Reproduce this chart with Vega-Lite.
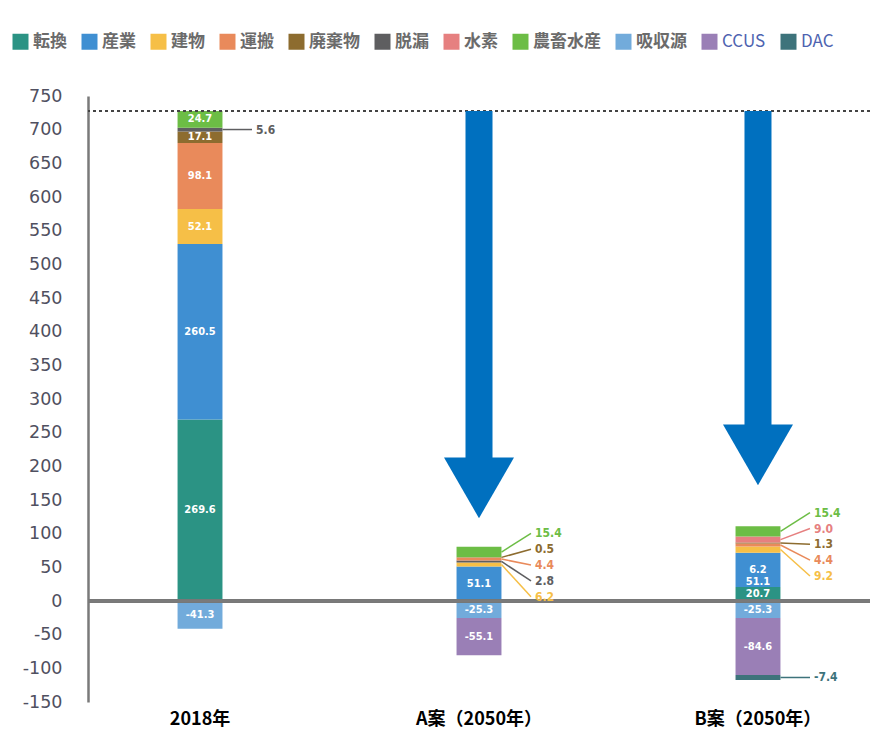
{
  "$schema": "https://vega.github.io/schema/vega-lite/v6.json",
  "autosize": {"type": "none"},
  "width": 782,
  "height": 606,
  "padding": {"left": 88, "top": 96, "right": 7, "bottom": 36},
  "background": "white",
  "config": {
    "view": {"stroke": null},
    "axis": {"labelOverlap": false},
    "axisY": {"labelOverlap": false, "labelBound": false, "grid": false, "ticks": false, "title": null,
              "labelPadding": 26, "labelFont": "DejaVu Sans", "labelFontSize": 17.5, "labelColor": "#505060",
              "domainColor": "#7a7a7a", "domainWidth": 2.5}
  },
  "datasets": {
    "emis": [
      {"case": "2018年", "sector": "転換", "value": 269.6, "idx": 0},
      {"case": "2018年", "sector": "産業", "value": 260.5, "idx": 1},
      {"case": "2018年", "sector": "建物", "value": 52.1, "idx": 2},
      {"case": "2018年", "sector": "運搬", "value": 98.1, "idx": 3},
      {"case": "2018年", "sector": "廃棄物", "value": 17.1, "idx": 4},
      {"case": "2018年", "sector": "脱漏", "value": 5.6, "idx": 5},
      {"case": "2018年", "sector": "農畜水産", "value": 24.7, "idx": 7},
      {"case": "2018年", "sector": "吸収源", "value": -41.3, "idx": 8},
      {"case": "A案（2050年）", "sector": "産業", "value": 51.1, "idx": 1},
      {"case": "A案（2050年）", "sector": "建物", "value": 6.2, "idx": 2},
      {"case": "A案（2050年）", "sector": "脱漏", "value": 2.8, "idx": 2.5},
      {"case": "A案（2050年）", "sector": "運搬", "value": 4.4, "idx": 3},
      {"case": "A案（2050年）", "sector": "廃棄物", "value": 0.5, "idx": 4},
      {"case": "A案（2050年）", "sector": "農畜水産", "value": 15.4, "idx": 7},
      {"case": "A案（2050年）", "sector": "吸収源", "value": -25.3, "idx": 8},
      {"case": "A案（2050年）", "sector": "CCUS", "value": -55.1, "idx": 9},
      {"case": "B案（2050年）", "sector": "転換", "value": 20.7, "idx": 0},
      {"case": "B案（2050年）", "sector": "産業", "value": 51.1, "idx": 1, "extra": "6.2"},
      {"case": "B案（2050年）", "sector": "建物", "value": 9.2, "idx": 2},
      {"case": "B案（2050年）", "sector": "運搬", "value": 4.4, "idx": 3},
      {"case": "B案（2050年）", "sector": "廃棄物", "value": 1.3, "idx": 4},
      {"case": "B案（2050年）", "sector": "水素", "value": 9.0, "idx": 6},
      {"case": "B案（2050年）", "sector": "農畜水産", "value": 15.4, "idx": 7},
      {"case": "B案（2050年）", "sector": "吸収源", "value": -25.3, "idx": 8},
      {"case": "B案（2050年）", "sector": "CCUS", "value": -84.6, "idx": 9},
      {"case": "B案（2050年）", "sector": "DAC", "value": -7.4, "idx": 10}
    ],
    "arrows": [
      {"case": "A案（2050年）", "start": 727.7, "tip": 108},
      {"case": "B案（2050年）", "start": 727.7, "tip": 157}
    ]
  },
  "encoding": {
    "x": {
      "field": "case", "type": "nominal",
      "sort": ["2018年", "A案（2050年）", "B案（2050年）"],
      "scale": {"domain": ["2018年", "A案（2050年）", "B案（2050年）"], "paddingInner": 0.839, "paddingOuter": 0.321},
      "axis": {"title": null, "labelAngle": 0, "ticks": false, "domain": false, "labelPadding": 8,
               "labelFont": "Noto Sans CJK JP", "labelFontSize": 18, "labelFontWeight": "bold", "labelColor": "#000000"}
    }
  },
  "layer": [
    {
      "data": {"name": "emis"},
      "mark": {"type": "bar"},
      "encoding": {
        "y": {
          "field": "value", "type": "quantitative", "stack": "zero",
          "scale": {"domain": [-150, 750], "nice": false, "zero": false},
          "axis": {"labelOverlap": false, "values": [-150, -100, -50, 0, 50, 100, 150, 200, 250, 300, 350, 400, 450, 500, 550, 600, 650, 700, 750], "labelExpr": "'' + datum.value"}
        },
        "order": {"field": "idx", "type": "quantitative"},
        "color": {
          "field": "sector", "type": "nominal",
          "scale": {
            "domain": ["転換", "産業", "建物", "運搬", "廃棄物", "脱漏", "水素", "農畜水産", "吸収源", "CCUS", "DAC"],
            "range": ["#2b9384", "#3f8fd2", "#f6bf47", "#e98a5b", "#8d6c2f", "#5e5e60", "#e68080", "#6cbd45", "#72abdb", "#9a7fb6", "#3d737b"]
          },
          "legend": {
            "title": null, "orient": "none", "direction": "horizontal", "legendX": -76, "legendY": -63,
            "symbolType": "square", "symbolSize": 256, "symbolStrokeWidth": 0, "symbolOpacity": 1,
            "labelFont": "Noto Sans CJK JP", "labelFontSize": 17, "labelFontWeight": "bold", "labelColor": "#6b6b6b",
            "columnPadding": 14, "labelOffset": 4, "padding": 0,
            "encode": {"labels": {"update": {
              "fill": {"signal": "indexof(['CCUS','DAC'], datum.label) >= 0 ? '#4e63b0' : '#6b6b6b'"},
              "fontWeight": {"signal": "indexof(['CCUS','DAC'], datum.label) >= 0 ? 'normal' : 'bold'"}
            }}}
          }
        }
      }
    },
    {
      "data": {"name": "emis"},
      "mark": {"type": "rule", "color": "#7a7a7a", "strokeWidth": 2.5},
      "encoding": {"x": null, "y": {"datum": 0, "type": "quantitative",
        "axis": {"labelOverlap": false, "values": [-150, -100, -50, 0, 50, 100, 150, 200, 250, 300, 350, 400, 450, 500, 550, 600, 650, 700, 750], "labelExpr": "'' + datum.value"}}}
    },
    {
      "data": {"name": "emis"},
      "mark": {"type": "rule", "color": "#444444", "strokeWidth": 1.5, "strokeDash": [3, 3]},
      "encoding": {"x": null, "y": {"datum": 727.7, "type": "quantitative",
        "axis": {"labelOverlap": false, "values": [-150, -100, -50, 0, 50, 100, 150, 200, 250, 300, 350, 400, 450, 500, 550, 600, 650, 700, 750], "labelExpr": "'' + datum.value"}}}
    },
    {
      "data": {"name": "arrows"},
      "mark": {"type": "bar", "color": "#0070bf", "width": 27},
      "transform": [{"calculate": "datum.tip + 80", "as": "shaftEnd"}],
      "encoding": {
        "y": {"field": "start", "type": "quantitative",
          "axis": {"labelOverlap": false, "values": [-150, -100, -50, 0, 50, 100, 150, 200, 250, 300, 350, 400, 450, 500, 550, 600, 650, 700, 750], "labelExpr": "'' + datum.value"}},
        "y2": {"field": "shaftEnd"}
      }
    },
    {
      "data": {"name": "arrows"},
      "mark": {"type": "point", "shape": "triangle-down", "size": 4900, "filled": true, "opacity": 1, "color": "#0070bf", "strokeWidth": 0},
      "transform": [{"calculate": "datum.tip + 60", "as": "head"}],
      "encoding": {
        "y": {"field": "head", "type": "quantitative",
          "axis": {"labelOverlap": false, "values": [-150, -100, -50, 0, 50, 100, 150, 200, 250, 300, 350, 400, 450, 500, 550, 600, 650, 700, 750], "labelExpr": "'' + datum.value"}}
      }
    },
    {
      "data": {"name": "emis"},
      "transform": [
        {"stack": "value", "groupby": ["case"], "sort": [{"field": "idx", "order": "ascending"}], "as": ["v0", "v1"]},
        {"calculate": "(datum.v0 + datum.v1) / 2", "as": "mid"},
        {"filter": "abs(datum.value) >= 16"},
        {"calculate": "replace(format(datum.value, '.1f'), '\u2212', '-')", "as": "num"},
        {"calculate": "datum.extra ? datum.extra + '\\n' + datum.num : datum.num", "as": "txt"}
      ],
      "mark": {"type": "text", "color": "white", "font": "DejaVu Sans Condensed, Roboto Condensed, Roboto, sans-serif", "fontWeight": "bold", "fontSize": 11, "lineBreak": "\n", "lineHeight": 12},
      "encoding": {
        "y": {"field": "mid", "type": "quantitative",
          "axis": {"labelOverlap": false, "values": [-150, -100, -50, 0, 50, 100, 150, 200, 250, 300, 350, 400, 450, 500, 550, 600, 650, 700, 750], "labelExpr": "'' + datum.value"}},
        "text": {"field": "txt", "type": "nominal"}
      }
    },
    {
      "data": {"name": "emis"},
      "transform": [
        {"stack": "value", "groupby": ["case"], "sort": [{"field": "idx", "order": "ascending"}], "as": ["v0", "v1"]},
        {"calculate": "(datum.v0 + datum.v1) / 2", "as": "mid"},
        {"joinaggregate": [{"op": "max", "field": "v1", "as": "top"}], "groupby": ["case"]},
        {"filter": "abs(datum.value) < 16"},
        {"calculate": "datum.case !== '2018年' && datum.value > 0 ? 1 : 0", "as": "fan"},
        {"window": [{"op": "row_number", "as": "rank"}], "groupby": ["case", "fan"], "sort": [{"field": "v1", "order": "descending"}]},
        {"calculate": "datum.fan ? datum.top + 20 - (datum.rank - 1) * 23.5 : datum.mid", "as": "labelY"},
        {"calculate": "replace(format(datum.value, '.1f'), '\u2212', '-')", "as": "txt"}
      ],
      "layer": [
        {
          "mark": {"type": "rule", "strokeWidth": 1.5, "xOffset": 22.5, "x2Offset": 52},
          "encoding": {
            "x2": {"field": "case"},
            "y": {"field": "mid", "type": "quantitative",
              "axis": {"labelOverlap": false, "values": [-150, -100, -50, 0, 50, 100, 150, 200, 250, 300, 350, 400, 450, 500, 550, 600, 650, 700, 750], "labelExpr": "'' + datum.value"}},
            "y2": {"field": "labelY"},
            "color": {"field": "sector", "type": "nominal", "legend": null}
          }
        },
        {
          "mark": {"type": "text", "align": "left", "dx": 56, "font": "DejaVu Sans Condensed, Roboto Condensed, Roboto, sans-serif", "fontWeight": "bold", "fontSize": 12},
          "encoding": {
            "y": {"field": "labelY", "type": "quantitative",
              "axis": {"labelOverlap": false, "values": [-150, -100, -50, 0, 50, 100, 150, 200, 250, 300, 350, 400, 450, 500, 550, 600, 650, 700, 750], "labelExpr": "'' + datum.value"}},
            "text": {"field": "txt", "type": "nominal"},
            "color": {"field": "sector", "type": "nominal", "legend": null}
          }
        }
      ]
    }
  ]
}
